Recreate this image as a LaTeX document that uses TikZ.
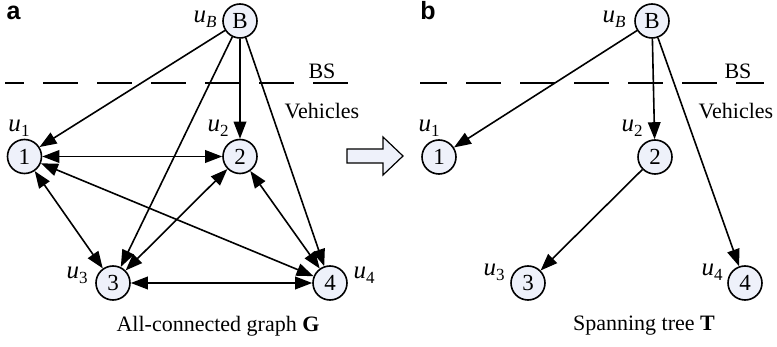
\documentclass[tikz,border=0pt]{standalone}
\usepackage{fontspec}
\setmainfont{Liberation Serif}
\newfontfamily\panelfont{Liberation Sans}
\usetikzlibrary{arrows.meta}
\definecolor{nodefill}{HTML}{EEF1FA}
\newcommand{\ulab}[1]{\textit{u}\raisebox{-0.45ex}{\fontsize{8.5}{9}\selectfont #1}}
\begin{document}
\begin{tikzpicture}[x=0.5pt,y=-0.5pt,
  vnode/.style={circle,draw,fill=nodefill,line width=0.8pt,minimum size=17pt,inner sep=0pt,font=\fontsize{11.5}{12}\selectfont},
  lbl/.style={inner sep=0pt,font=\fontsize{12.5}{13}\selectfont},
  txt/.style={inner sep=0pt,font=\fontsize{11}{12}\selectfont},
  panel/.style={inner sep=0pt,font=\fontsize{12.5}{13}\panelfont\bfseries},
  edge/.style={line width=0.8pt},
  arr/.style={edge,-{Triangle[length=8.5pt,width=6.3pt]}},
  darr/.style={edge,{Triangle[length=8.5pt,width=6.3pt]}-{Triangle[length=8.5pt,width=6.3pt]}},
  bsline/.style={line width=0.8pt,dash pattern=on 17.5pt off 9.5pt}]
\useasboundingbox (0,0) rectangle (777,347);

% ---------- panel a ----------
\node[panel] (pa) at (13.5,13) {a};
\node[vnode] (BL) at (240,21) {B};
\node[vnode] (L1) at (24.5,156.5) {1};
\node[vnode] (L2) at (240,156.5) {2};
\node[vnode] (L3) at (113,283) {3};
\node[vnode] (L4) at (330,283) {4};
\node[lbl] (uBL) at (205,19) {\ulab{\textit{B}}};
\node[lbl] (u1L) at (19,128) {\ulab{1}};
\node[lbl] (u2L) at (218,128) {\ulab{2}};
\node[lbl] (u3L) at (77,275) {\ulab{3}};
\node[lbl] (u4L) at (364,275) {\ulab{4}};
\node[txt] (bsL) at (322,71) {BS};
\node[txt] (vhL) at (322,111) {Vehicles};
\node[txt] (capL) at (218,326) {All-connected graph \textbf{G}};
\coordinate (dLa) at (5,83);
\coordinate (dLb) at (348,83);
\draw[bsline,dash phase=8pt] (dLa) -- (dLb);

\draw[arr] (BL) -- (L1);
\draw[arr] (BL) -- (L2);
\draw[arr] (BL) -- (L3);
\draw[arr] (BL) -- (L4);
\draw[darr] (L1) -- (L2);
\draw[darr] (L1) -- (L3);
\draw[darr] (L1) -- (L4);
\draw[darr] (L2) -- (L3);
\draw[darr] (L2) -- (L4);
\draw[darr] (L3) -- (L4);

% ---------- block arrow ----------
\draw[line width=0.6pt,fill=nodefill,line join=miter]
  (347,149) -- (383,149) -- (383,137) -- (403,156) -- (383,175) -- (383,163) -- (347,163) -- cycle;

% ---------- panel b ----------
\node[panel] (pb) at (428,11) {b};
\node[vnode] (BR) at (652,21) {B};
\node[vnode] (R1) at (439,157) {1};
\node[vnode] (R2) at (655,157) {2};
\node[vnode] (R3) at (528,283) {3};
\node[vnode] (R4) at (745,283) {4};
\node[lbl] (uBR) at (614,19) {\ulab{\textit{B}}};
\node[lbl] (u1R) at (429,128) {\ulab{1}};
\node[lbl] (u2R) at (632,128) {\ulab{2}};
\node[lbl] (u3R) at (494,272) {\ulab{3}};
\node[lbl] (u4R) at (712,272) {\ulab{4}};
\node[txt] (bsR) at (738,71) {BS};
\node[txt] (vhR) at (736,111) {Vehicles};
\node[txt] (capR) at (644,326) {Spanning tree \textbf{T}};
\coordinate (dRa) at (420,83);
\coordinate (dRb) at (764,83);
\draw[bsline,dash phase=4pt] (dRa) -- (dRb);

\draw[arr] (BR) -- (R1);
\draw[arr] (BR) -- (R2);
\draw[arr] (BR) -- (R4);
\draw[arr] (R2) -- (R3);
\end{tikzpicture}
\end{document}
